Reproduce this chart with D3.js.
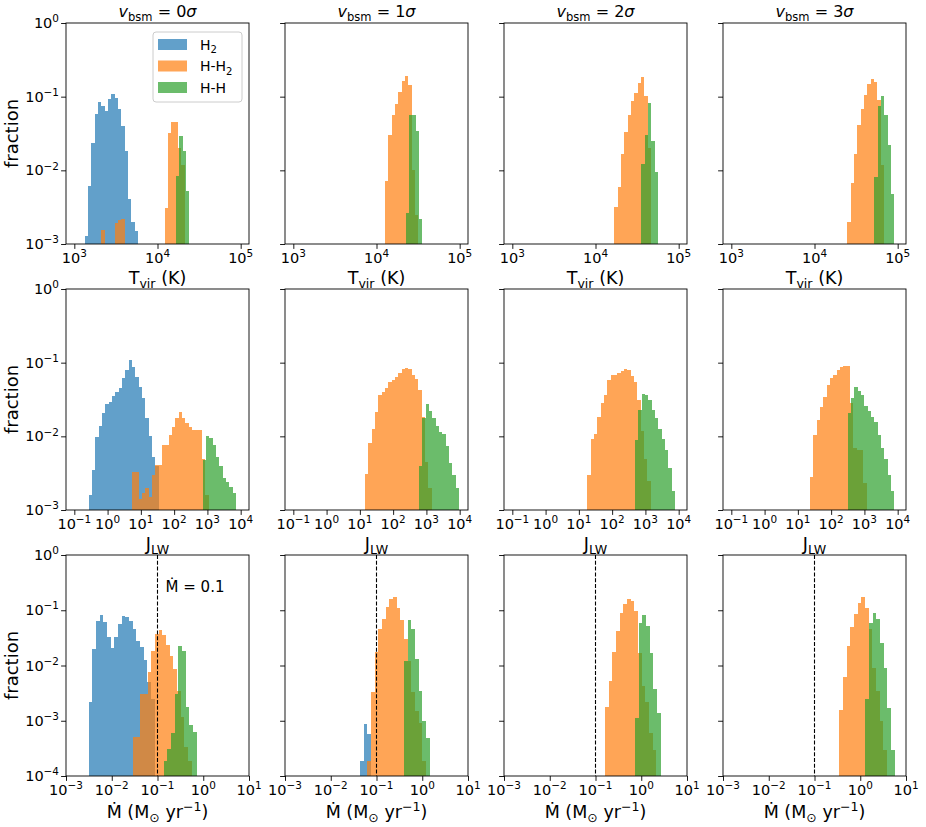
<!DOCTYPE html>
<html>
<head>
<meta charset="utf-8">
<script src="https://cdn.jsdelivr.net/npm/d3@7"></script>
<style>
  body { margin: 0; background: #fff; }
  svg { font-family: "DejaVu Sans", sans-serif; }
</style>
</head>
<body>
<div id="chart"></div>
<script>
// v_bsm values per column
const vbsm = ["0", "1", "2", "3"];
const seriesNames = ["H2", "H-H2", "H-H"];
const seriesColors = ["#1f77b4", "#ff7f0e", "#2ca02c"];

// histogram bin widths in dex, one per row
const tvirBin = 0.04, jlwBin = 0.1, mdotBin = 0.08;

// each histogram: lo = log10 of first bin's left edge, f = fraction per bin
const tvirH2 = [
  {lo: 3.124, f: [1.3e-3, 6.2e-3, 0.0235, 0.059, 0.085, 0.075, 0.063, 0.093, 0.108, 0.095, 0.068, 0.040, 0.0185, 0.0041, 0.002, 0.0015]},
  null, null, null
];
const tvirHH2 = [
  {lo: 3.325, f: [1.55e-3, 0, 0, 0, 1.9e-3, 2.1e-3, 2.2e-3, 0, 0, 0, 0, 0, 0, 0, 0, 0, 0, 0, 0, 3.1e-3, 0.032, 0.046, 0.046, 0.02, 0.012]},
  {lo: 4.102, f: [7.1e-3, 0.0305, 0.057, 0.080, 0.115, 0.165, 0.19, 0.146, 0.01, 2.5e-3]},
  {lo: 4.226, f: [3.2e-3, 5.9e-3, 0.0167, 0.033, 0.057, 0.088, 0.112, 0.153, 0.183, 0.101, 0.02]},
  {lo: 4.394, f: [2.0e-3, 6.7e-3, 0.0168, 0.0417, 0.067, 0.106, 0.150, 0.175, 0.16, 0.09, 0.012]}
];
const tvirHH = [
  {lo: 4.222, f: [8.5e-3, 0.029, 0.0185, 5.2e-3]},
  {lo: 4.350, f: [2.6e-3, 0.057, 0.057, 0.034, 2.2e-3]},
  {lo: 4.551, f: [0.0122, 0.03, 0.082, 0.025, 0.0096]},
  {lo: 4.719, f: [8.0e-3, 0.074, 0.101, 0.057, 0.0218, 4.8e-3]}
];

const jlwH2 = [
  {lo: -0.569, f: [1.6e-3, 3.5e-3, 9.9e-3, 0.0138, 0.0205, 0.0275, 0.0295, 0.0353, 0.040, 0.0448, 0.061, 0.079, 0.109, 0.086, 0.063, 0.047, 0.033, 0.0176, 0.0101, 5.3e-3, 3.9e-3]},
  null, null, null
];
const jlwHH2 = [
  {lo: 0.734, f: [3.3e-3, 3.3e-3, 1.4e-3, 1.7e-3, 2.0e-3, 1.5e-3, 3.0e-3, 4.1e-3, 4.1e-3, 7.6e-3, 7.6e-3, 0.0104, 0.0135, 0.0175, 0.0216, 0.0175, 0.015, 0.0133, 0.0123, 0.0123, 0.0123, 5e-3, 1.6e-3]},
  {lo: 1.155, f: [3.1e-3, 8.0e-3, 0.0126, 0.0216, 0.0364, 0.0404, 0.0449, 0.0552, 0.0582, 0.0646, 0.0716, 0.0812, 0.0838, 0.082, 0.069, 0.0594, 0.0426, 0.0185, 4.5e-3, 2.0e-3]},
  {lo: 1.255, f: [3.0e-3, 9.1e-3, 0.0106, 0.0185, 0.028, 0.0364, 0.0582, 0.068, 0.069, 0.073, 0.078, 0.081, 0.080, 0.066, 0.055, 0.031, 0.012, 5e-3, 2.5e-3]},
  {lo: 1.365, f: [2.8e-3, 0.0104, 0.0167, 0.0253, 0.0345, 0.0498, 0.061, 0.068, 0.079, 0.086, 0.091, 0.09, 0.028, 7e-3, 6.5e-3, 6.5e-3, 2.3e-3]}
];
const jlwHH = [
  {lo: 2.858, f: [4.8e-3, 0.0101, 0.0095, 7.6e-3, 5.3e-3, 4.0e-3, 2.7e-3, 2.4e-3, 2.07e-3, 1.7e-3]},
  {lo: 2.778, f: [3.98e-3, 0.0175, 0.0275, 0.0223, 0.0175, 0.014, 0.0116, 0.0108, 7.5e-3, 4.3e-3, 3.0e-3, 1.97e-3]},
  {lo: 2.688, f: [8.9e-3, 0.0228, 0.038, 0.0364, 0.031, 0.0228, 0.0175, 0.0126, 9.1e-3, 6.5e-3, 3.7e-3, 1.83e-3]},
  {lo: 2.498, f: [0.0205, 0.0328, 0.0472, 0.0417, 0.0364, 0.0258, 0.022, 0.0185, 0.0158, 0.0104, 6.9e-3, 4.9e-3, 3.0e-3, 1.83e-3]}
];

const mdotH2 = [
  {lo: -2.505, f: [2.2e-3, 0.0199, 0.0647, 0.0832, 0.0604, 0.0334, 0.0207, 0.0334, 0.0564, 0.0776, 0.076, 0.0647, 0.046, 0.028, 0.0217, 0.0125, 5.1e-3, 2.5e-3]},
  {lo: -1.361, f: [1.9e-4, 8.9e-4, 5.7e-4]},
  null, null
];
const mdotHH2 = [
  {lo: -1.535, f: [5.0e-4, 5.0e-4, 3.0e-3, 3.0e-3, 7.5e-3, 0.0185, 0.037, 0.044, 0.0361, 0.0235, 0.0151, 8.6e-3, 3.4e-3, 1.15e-3, 3.3e-4, 1.9e-4]},
  {lo: -1.200, f: [1.9e-4, 3.3e-3, 0.0175, 0.045, 0.0705, 0.1145, 0.158, 0.176, 0.111, 0.0667, 0.0306, 0.012, 3.3e-3, 1.5e-3, 9e-4, 1.9e-4]},
  {lo: -0.792, f: [1.77e-3, 5.2e-3, 0.0175, 0.042, 0.0904, 0.128, 0.158, 0.147, 0.0968, 0.017, 4.3e-3, 2.2e-3, 6e-4, 3e-4]},
  {lo: -0.457, f: [1.57e-3, 6.3e-3, 0.0225, 0.0505, 0.0844, 0.133, 0.176, 0.111, 0.045, 9.1e-3, 3.5e-3, 1.0e-3, 3e-4]}
];
const mdotHH = [
  {lo: -0.865, f: [1.9e-4, 3.1e-4, 5.9e-4, 3.0e-3, 0.0229, 0.0185, 1.75e-3, 8.4e-4, 6.2e-4]},
  {lo: -0.399, f: [0.012, 0.0667, 0.0464, 0.0133, 3.4e-3, 9.9e-4, 4.8e-4]},
  {lo: -0.137, f: [1.1e-3, 0.0596, 0.082, 0.0519, 0.0171, 3.7e-3, 1.4e-3]},
  {lo: 0.111, f: [2.5e-3, 0.0596, 0.090, 0.0705, 0.0252, 9.1e-3, 1.7e-3, 2.96e-4]}
];

// critical accretion rate marker
const mdotCrit = 0.1;

const width = 926, height = 827;
const colLeft = [66, 285, 504, 723], plotW = 183;
const rowTop = [23, 289, 555], plotH = 221;
const tickFont = 14.5;

const rows = [
  {hists: [tvirH2, tvirHH2, tvirHH], bin: tvirBin, xExp: [2.9, 5.1], yMin: 1e-3, labelGap: 40,
   xlabel: [{t: "T"}, {t: "vir", k: "sub"}, {t: " (K)"}]},
  {hists: [jlwH2, jlwHH2, jlwHH], bin: jlwBin, xExp: [-1.25, 4.25], yMin: 1e-3, labelGap: 40,
   xlabel: [{t: "J"}, {t: "LW", k: "sub"}]},
  {hists: [mdotH2, mdotHH2, mdotHH], bin: mdotBin, xExp: [-3, 1], yMin: 1e-4, labelGap: 42,
   xlabel: [{t: "Ṁ (M"}, {t: "⊙", k: "sub"}, {t: " yr"}, {t: "−1", k: "sup"}, {t: ")"}]}
];

// text with sub/superscripts as tspans
const rich = (sel, parts, size) => {
  let shift = 0;
  parts.forEach(p => {
    const target = p.k === "sup" ? -0.4 * size : p.k === "sub" ? 0.25 * size : 0;
    sel.append("tspan")
       .attr("dy", target - shift)
       .attr("font-size", p.k ? size * 0.72 : size)
       .attr("font-style", p.i ? "italic" : null)
       .text(p.t);
    shift = target;
  });
};

const decadeTicks = (lo, hi) => {
  const major = [], minor = [];
  for (let k = Math.floor(lo); k <= Math.ceil(hi); k++) {
    if (k >= lo - 1e-9 && k <= hi + 1e-9) major.push(Math.pow(10, k));
    for (let m = 2; m <= 9; m++) {
      const v = m * Math.pow(10, k);
      if (Math.log10(v) >= lo && Math.log10(v) <= hi) minor.push(v);
    }
  }
  return {major, minor};
};

const expLabel = v => {
  const e = Math.round(Math.log10(v));
  return [{t: "10"}, {t: (e < 0 ? "−" : "") + Math.abs(e), k: "sup"}];
};

const svg = d3.select("#chart").append("svg")
  .attr("width", width).attr("height", height)
  .attr("viewBox", [0, 0, width, height]);

rows.forEach((row, r) => {
  vbsm.forEach((vb, c) => {
    const x0 = colLeft[c], y0 = rowTop[r];
    const g = svg.append("g").attr("transform", `translate(${x0},${y0})`);

    const xs = d3.scaleLog().domain(row.xExp.map(e => Math.pow(10, e))).range([0, plotW]);
    const ys = d3.scaleLog().domain([row.yMin, 1]).range([plotH, 0]);

    // histograms, drawn in order H2, H-H2, H-H
    row.hists.forEach((series, s) => {
      const h = series[c];
      if (!h) return;
      const bins = h.f.map((v, i) => ({
        a: Math.pow(10, h.lo + i * row.bin),
        b: Math.pow(10, h.lo + (i + 1) * row.bin),
        v
      })).filter(d => d.v > row.yMin);
      g.append("g")
        .attr("fill", seriesColors[s])
        .attr("fill-opacity", 0.7)
        .attr("shape-rendering", "crispEdges")
        .selectAll("rect")
        .data(bins)
        .join("rect")
        .attr("x", d => xs(d.a))
        .attr("width", d => xs(d.b) - xs(d.a))
        .attr("y", d => ys(d.v))
        .attr("height", d => plotH - ys(d.v));
    });

    // dashed marker on the accretion-rate row
    if (r === 2) {
      g.append("line")
        .attr("x1", xs(mdotCrit)).attr("x2", xs(mdotCrit))
        .attr("y1", 0).attr("y2", plotH)
        .attr("stroke", "#000").attr("stroke-width", 1.1)
        .attr("stroke-dasharray", "4,1.8");
      if (c === 0) {
        const t = g.append("text")
          .attr("x", xs(0.15)).attr("y", ys(0.215))
          .attr("fill", "#000");
        rich(t, [{t: "Ṁ = 0.1"}], 15);
      }
    }

    // axes
    const xt = decadeTicks(...row.xExp);
    const yt = decadeTicks(Math.log10(row.yMin), 0);

    const xAxis = g.append("g").attr("transform", `translate(0,${plotH})`);
    xAxis.call(d3.axisBottom(xs).tickValues(xt.minor).tickSize(2.8).tickFormat(""));
    xAxis.call(d3.axisBottom(xs).tickValues(xt.major).tickSize(4.9).tickFormat(""));
    xAxis.select(".domain").remove();
    xAxis.selectAll("line").attr("stroke", "#000").attr("stroke-width", 0.9);

    const yAxis = g.append("g");
    yAxis.call(d3.axisLeft(ys).tickValues(yt.minor).tickSize(2.8).tickFormat(""));
    yAxis.call(d3.axisLeft(ys).tickValues(yt.major).tickSize(4.9).tickFormat(""));
    yAxis.select(".domain").remove();
    yAxis.selectAll("line").attr("stroke", "#000").attr("stroke-width", 0.9);

    // tick labels
    xt.major.forEach(v => {
      const t = g.append("text")
        .attr("x", xs(v)).attr("y", plotH + 19)
        .attr("text-anchor", "middle").attr("fill", "#000");
      rich(t, expLabel(v), tickFont);
    });
    if (c === 0) {
      yt.major.forEach(v => {
        const t = g.append("text")
          .attr("x", -7).attr("y", ys(v) + 5)
          .attr("text-anchor", "end").attr("fill", "#000");
        rich(t, expLabel(v), tickFont);
      });
      g.append("text")
        .attr("transform", `translate(${-48},${plotH / 2}) rotate(-90)`)
        .attr("text-anchor", "middle")
        .attr("font-size", 18)
        .text("fraction");
    }

    // frame
    g.append("rect")
      .attr("width", plotW).attr("height", plotH)
      .attr("fill", "none").attr("stroke", "#000").attr("stroke-width", 0.9);

    // x label
    const xl = g.append("text")
      .attr("x", plotW / 2).attr("y", plotH + row.labelGap)
      .attr("text-anchor", "middle");
    rich(xl, row.xlabel, 17.5);

    // column title
    if (r === 0) {
      const tt = g.append("text")
        .attr("x", plotW / 2).attr("y", -6)
        .attr("text-anchor", "middle");
      rich(tt, [{t: "v", i: true}, {t: "bsm", k: "sub"}, {t: " = " + vb}, {t: "σ", i: true}], 16);
    }

    // legend
    if (r === 0 && c === 0) {
      const lg = g.append("g").attr("transform", `translate(${plotW - 96},9)`);
      lg.append("rect")
        .attr("width", 89).attr("height", 70).attr("rx", 3)
        .attr("fill", "#fff").attr("fill-opacity", 0.8)
        .attr("stroke", "#ccc");
      const labels = [
        [{t: "H"}, {t: "2", k: "sub"}],
        [{t: "H-H"}, {t: "2", k: "sub"}],
        [{t: "H-H"}]
      ];
      seriesNames.forEach((name, i) => {
        lg.append("rect")
          .attr("x", 5).attr("y", 7 + i * 21.5)
          .attr("width", 29).attr("height", 11)
          .attr("fill", seriesColors[i]).attr("fill-opacity", 0.7);
        const t = lg.append("text").attr("x", 47).attr("y", 17.5 + i * 21.5);
        rich(t, labels[i], 14);
      });
    }
  });
});
</script>
</body>
</html>
